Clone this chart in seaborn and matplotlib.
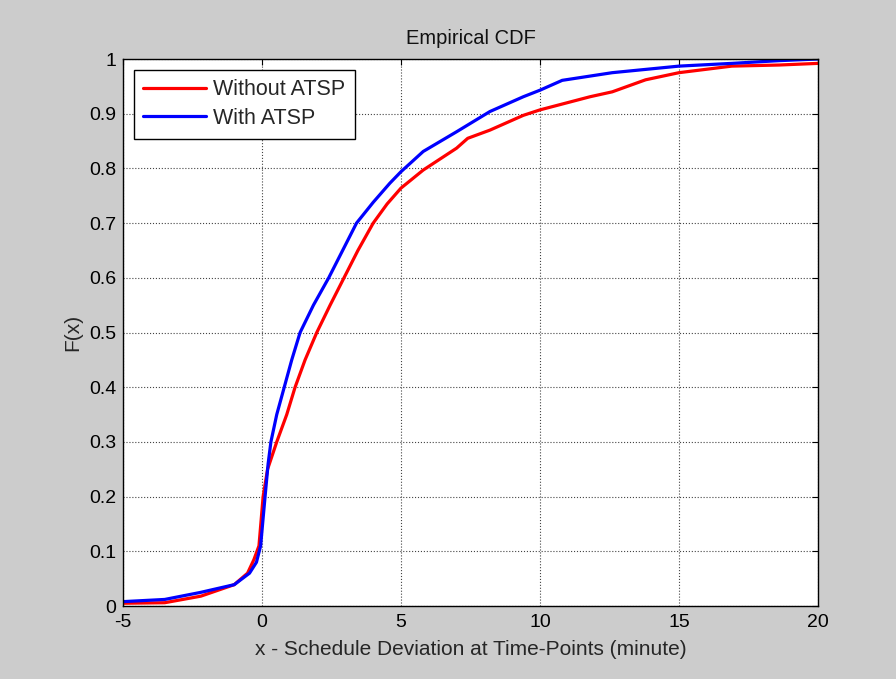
import pandas as pd
import seaborn as sns
import matplotlib.pyplot as plt

# Values
x_without = [-5, -3.5, -2.2, -1.0, -0.52, -0.29, -0.11, 0.04, 0.2, 0.53, 0.89, 1.19, 1.55, 1.97, 2.45,
             2.95, 3.45, 4.0, 4.5, 5.0, 5.8, 7.0, 7.4, 8.2, 9.4, 10, 11.8, 12.6, 13.8, 15, 16.9, 18.6, 20]
y_without = [0.005, 0.006, 0.018, 0.039, 0.06, 0.085, 0.11, 0.2, 0.25, 0.3, 0.35, 0.4, 0.45, 0.5, 0.55,
             0.6, 0.65, 0.7, 0.735, 0.764, 0.797, 0.837, 0.855, 0.87, 0.897, 0.907, 0.931, 0.94, 0.962,
             0.975, 0.987, 0.989, 0.992]

x_with = [-5, -3.5, -2.2, -1.0, -0.45, -0.2, -0.05, 0.11, 0.22, 0.32, 0.53, 0.8, 1.07, 1.37, 1.85, 2.4,
          2.9, 3.4, 4.0, 4.6, 5.0, 5.8, 7.0, 8.2, 9.4, 10, 10.8, 12.6, 15, 16.9, 18.6, 20]
y_with = [0.008, 0.012, 0.025, 0.039, 0.06, 0.08, 0.11, 0.2, 0.26, 0.3, 0.35, 0.4, 0.45, 0.5, 0.55, 0.6,
          0.65, 0.7, 0.738, 0.773, 0.794, 0.831, 0.867, 0.904, 0.931, 0.943, 0.961, 0.975, 0.987, 0.992,
          0.997, 1.0]

series_names = ["Without ATSP", "With ATSP"]
x_ticks = [-5, 0, 5, 10, 15, 20]
y_ticks = [0, 0.1, 0.2, 0.3, 0.4, 0.5, 0.6, 0.7, 0.8, 0.9, 1]
y_tick_labels = ["0", "0.1", "0.2", "0.3", "0.4", "0.5", "0.6", "0.7", "0.8", "0.9", "1"]

df = pd.concat([
    pd.DataFrame({"x": x_without, "F": y_without, "series": series_names[0]}),
    pd.DataFrame({"x": x_with, "F": y_with, "series": series_names[1]}),
])

sns.set_style("white")
plt.rcParams["font.family"] = ["Liberation Sans", "DejaVu Sans"]

fig = plt.figure(figsize=(8.96, 6.79), dpi=100, facecolor="#cccccc")
ax = fig.add_axes([0.1373, 0.1075, 0.9129 - 0.1373, 0.9131 - 0.1075])
ax.set_facecolor("white")

sns.lineplot(data=df, x="x", y="F", hue="series", palette=["#ff0000", "#0000ff"],
             sort=False, estimator=None, linewidth=2.3, ax=ax)

ax.set_xlim(-5, 20)
ax.set_ylim(0, 1)
ax.set_xticks(x_ticks)
ax.set_xticklabels([str(t) for t in x_ticks])
ax.set_yticks(y_ticks)
ax.set_yticklabels(y_tick_labels)
ax.tick_params(direction="in", top=True, right=True, length=4, width=0.8,
               labelsize=14, colors="black")
ax.tick_params(axis="x", pad=6)
ax.tick_params(axis="y", pad=5)
ax.grid(True, linestyle=":", color="#444444", linewidth=0.8)
for s in ax.spines.values():
    s.set_color("black")
    s.set_linewidth(1.0)

ax.set_title("Empirical CDF", fontsize=14.5, pad=11, color="#111111")
ax.set_xlabel("x - Schedule Deviation at Time-Points (minute)", fontsize=15, labelpad=6)
ax.set_ylabel("F(x)", fontsize=15, labelpad=5)

leg = ax.legend(loc="upper left", fontsize=15.5, frameon=True, fancybox=False,
                edgecolor="black", framealpha=1, borderaxespad=0.5,
                handlelength=2.9, handletextpad=0.35, borderpad=0.45, labelspacing=0.35)
leg.get_frame().set_linewidth(1.0)

fig.savefig("out.png", dpi=100, facecolor=fig.get_facecolor())
